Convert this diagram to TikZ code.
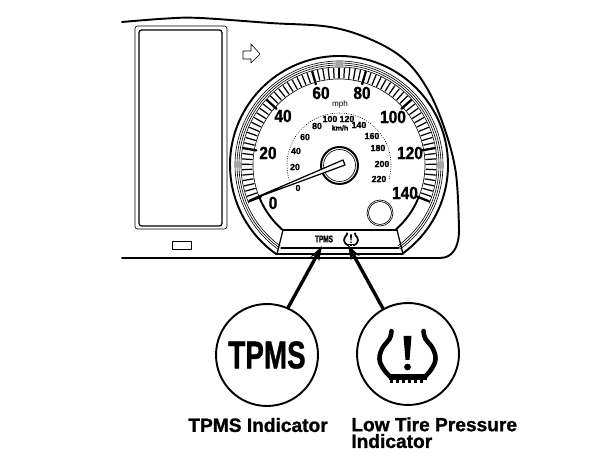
\documentclass[tikz,border=0pt]{standalone}
\usepackage{fontspec}
\setmainfont[BoldFeatures={FakeBold=1.2}]{Liberation Sans}
\usetikzlibrary{arrows.meta}

\tikzset{
  tireicon/.pic={
    \draw[line width=#1] plot[smooth, tension=0.7] coordinates {(-16,23) (-18,15) (-25,6) (-28,-5) (-24,-15) (-17,-23)};
    \draw[line width=#1] plot[smooth, tension=0.7] coordinates {(16,23) (18,15) (25,6) (28,-5) (24,-15) (17,-23)};
    \fill (-19,-26) rectangle (19,-20);
    \foreach \t in {-16,-10,-4,2,8,14} \fill (\t-1.5,-29) rectangle (\t+1.5,-25);
    \fill (-4,18) -- (4,18) -- (2,-6) -- (-2,-6) -- cycle;
    \fill (0,-13) circle (3.4);
  }
}

\begin{document}
\begin{tikzpicture}[x=0.02cm, y=0.02cm, >=Stealth, line cap=round, line join=round,
    thinline/.style={line width=0.35pt},
    midline/.style={line width=0.7pt},
    heavyline/.style={line width=1.1pt},
    speedlab/.style={font=\fontsize{10}{10}\selectfont\bfseries, xscale=0.88, inner sep=0},
    kmhlab/.style={font=\fontsize{5}{5}\selectfont\bfseries, inner sep=0},
    bigcircle/.style={circle, draw, line width=1.1pt, minimum size=2.04cm, inner sep=0},
    caption/.style={font=\fontsize{10.9}{9.5}\selectfont\bfseries, inner sep=0, align=left},
    pointer/.style={line width=1.9pt, -{Stealth[length=8.5pt,width=5.5pt]}}]
  \useasboundingbox (0,0) rectangle (608,472);
  \coordinate (gc) at (339,307);

  % panel outline
  \draw[line width=1.1pt] (122,214) -- (440,214) .. controls (452,214) and (459,224) .. (459,242);
  \draw[heavyline] plot[smooth, tension=0.6] coordinates {(122,450) (167,453.5) (200,454) (270,449) (330,445) (372,432) (405,412) (428,382) (445,342) (456,298) (459,242)};

  % display
  \draw[thinline, rounded corners=1.5] (135,243) rectangle (227,446);
  \draw[midline, rounded corners=1.5] (139,246) rectangle (222,442);
  \draw[thinline] (172,223) rectangle (191,231);
  \draw[thinline] (243,421) -- (251,421) -- (251,428) -- (260,418) -- (251,409) -- (251,413) -- (243,413) -- cycle;

  % rings
  \draw[heavyline] (gc) ++(235:109) arc[start angle=235, end angle=-55, radius=109];
  \foreach \r in {100,102,104}
    \draw[thinline] (gc) ++(234:\r) arc[start angle=234, end angle=-54, radius=\r];
  \draw[thinline] (gc) ++(203:98) arc[start angle=203, end angle=-23, radius=98];
  \draw[thinline] (gc) ++(203:86) arc[start angle=203, end angle=-23, radius=86];
  \draw[heavyline] (gc) ++(203:86) arc[start angle=203, end angle=229, radius=86];
  \draw[heavyline] (gc) ++(-23:86) arc[start angle=-23, end angle=-49, radius=86];

  % scale marks
  \foreach \i in {0,...,70} {
    \pgfmathsetmacro{\ang}{202-3.2*\i}
    \draw[midline] (gc) ++(\ang:87) -- ++(\ang:10);
  }
  \foreach \i in {0,...,7} {
    \pgfmathsetmacro{\ang}{202-32*\i}
    \draw[line width=1.3pt] (gc) ++(\ang:84) -- ++(\ang:13);
  }

  % lower plate
  \draw[heavyline] (283,242) -- (397,242);
  \draw[midline] (283,242) -- (277,218);
  \draw[midline] (397,242) -- (403,218);
  \draw[midline] (281,224) -- (399,224);
  \draw[heavyline] (277,218) -- (403,218);

  % mph figures
  \foreach \val/\px/\py in {0/273/269, 20/268/319, 40/283/356, 60/321/379, 80/362/379, 100/393/355, 120/410/319, 140/405/279}
    \node[speedlab] (mph\val) at (\px,\py) {\val};
  \node[font=\fontsize{4.6}{5}\selectfont, inner sep=0] (mphunit) at (340,368) {mph};

  % km/h figures
  \draw[thinline, densely dotted] (gc) ++(197:52) arc[start angle=197, end angle=-17, radius=52];
  \foreach \val/\px/\py in {0/298/284, 20/295/305, 40/296/321, 60/305/335, 80/317/346, 100/330/353, 120/347/353, 140/359/347, 160/372/336, 180/378/324, 200/382/308, 220/379/293}
    \node[kmhlab] (kmh\val) at (\px,\py) {\val};
  \node[font=\fontsize{4}{5}\selectfont\bfseries, inner sep=0] (kmhunit) at (340,344) {km/h};

  % needle and hub
  \draw[heavyline] (gc) ++(0.5,-0.5) circle (18.5);
  \draw[thinline] (gc) ++(0.5,-0.5) circle (16);
  \draw[midline, fill=white] (250,272) -- (343,312) -- (345,307) -- cycle;
  \draw[thinline] (380,259) circle (13);
  \draw[thinline] (380,259) circle (11.5);

  % small lamps
  \node[font=\fontsize{5.5}{6}\selectfont\bfseries, xscale=0.67, inner sep=0] (tpmssmall) at (324,233) {TPMS};
  \pic[scale=0.25] (tiresmall) at (351,233) {tireicon=1pt};

  % enlarged lamps
  \node[bigcircle] (tpmscircle) at (267,117) {};
  \node[font=\fontsize{22}{22}\selectfont\bfseries, xscale=0.72, inner sep=0] (tpmstext) at (tpmscircle) {TPMS};
  \node[bigcircle] (tirecircle) at (408,118) {};
  \pic (tirebig) at (407.5,118) {tireicon=2.6pt};
  \coordinate (tpmstip) at (322,226);
  \coordinate (tiretip) at (348,227);
  \draw[pointer] (tpmscircle.66) -- (tpmstip);
  \draw[pointer] (tirecircle) -- (tiretip);

  % captions
  \node[caption, anchor=west] (tpmscaption) at (188,47) {TPMS Indicator};
  \node[caption, anchor=north west] (tirecaption) at (351,55) {Low Tire Pressure\\Indicator};
\end{tikzpicture}
\end{document}
